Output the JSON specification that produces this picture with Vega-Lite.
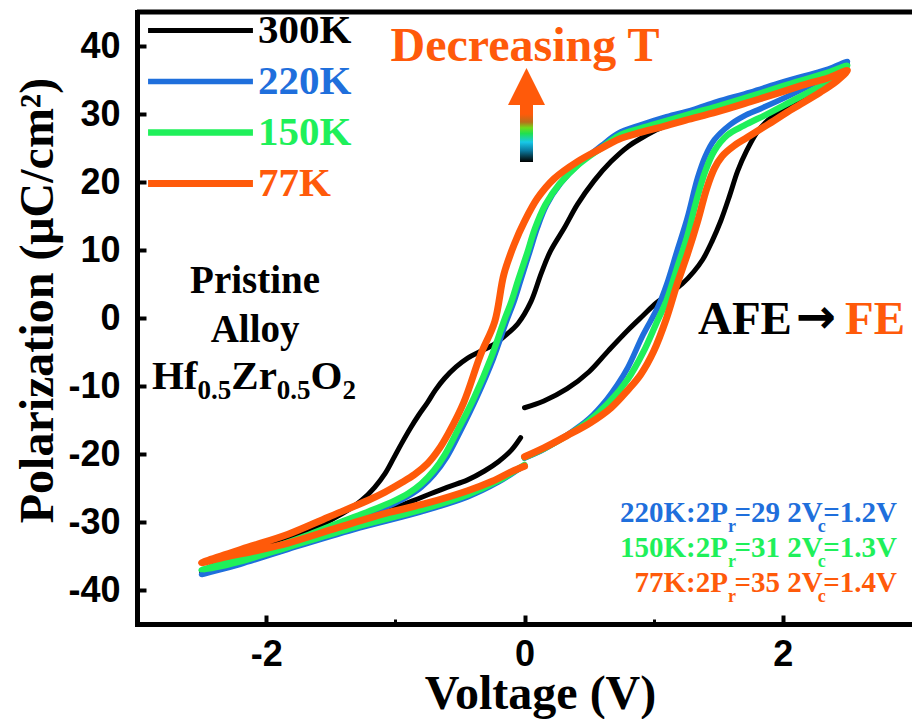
{
  "$schema": "https://vega.github.io/schema/vega-lite/v6.json",
  "width": 775,
  "height": 612,
  "autosize": {"type": "none"},
  "padding": {"left": 137, "top": 12, "right": 0, "bottom": 95},
  "background": "white",
  "config": {
    "view": {"stroke": null},
    "text": {"font": "Liberation Serif", "fontWeight": "bold"}
  },
  "datasets": {
    "one": [{}],
    "loops": [
      {"T":"300K","v":0.00,"p":-13.2},{"T":"300K","v":0.15,"p":-12.2},{"T":"300K","v":0.33,"p":-10.4},{"T":"300K","v":0.50,"p":-7.9},{"T":"300K","v":0.65,"p":-4.8},{"T":"300K","v":0.80,"p":-1.8},{"T":"300K","v":0.92,"p":0.4},{"T":"300K","v":1.02,"p":2.2},{"T":"300K","v":1.12,"p":3.6},{"T":"300K","v":1.22,"p":5.0},{"T":"300K","v":1.31,"p":6.8},{"T":"300K","v":1.38,"p":8.6},{"T":"300K","v":1.45,"p":11.2},{"T":"300K","v":1.52,"p":14.3},{"T":"300K","v":1.59,"p":18.1},{"T":"300K","v":1.65,"p":21.6},{"T":"300K","v":1.72,"p":24.6},{"T":"300K","v":1.80,"p":27.3},{"T":"300K","v":1.88,"p":29.0},{"T":"300K","v":2.00,"p":30.8},{"T":"300K","v":2.12,"p":32.0},{"T":"300K","v":2.25,"p":33.4},{"T":"300K","v":2.39,"p":35.1},{"T":"300K","v":2.50,"p":37.4},
      {"T":"300K","v":2.40,"p":36.6},{"T":"300K","v":2.20,"p":35.3},{"T":"300K","v":2.00,"p":34.0},{"T":"300K","v":1.75,"p":32.4},{"T":"300K","v":1.50,"p":30.9},{"T":"300K","v":1.25,"p":29.3},{"T":"300K","v":1.05,"p":27.9},{"T":"300K","v":0.90,"p":26.4},{"T":"300K","v":0.80,"p":25.2},{"T":"300K","v":0.67,"p":23.0},{"T":"300K","v":0.54,"p":20.2},{"T":"300K","v":0.41,"p":16.7},{"T":"300K","v":0.31,"p":13.3},{"T":"300K","v":0.20,"p":9.8},{"T":"300K","v":0.13,"p":6.6},{"T":"300K","v":0.05,"p":2.4},{"T":"300K","v":-0.05,"p":-0.8},{"T":"300K","v":-0.15,"p":-2.6},{"T":"300K","v":-0.23,"p":-3.8},{"T":"300K","v":-0.34,"p":-4.9},{"T":"300K","v":-0.44,"p":-5.9},{"T":"300K","v":-0.53,"p":-7.2},{"T":"300K","v":-0.62,"p":-8.9},{"T":"300K","v":-0.69,"p":-10.6},{"T":"300K","v":-0.75,"p":-12.4},{"T":"300K","v":-0.82,"p":-14.3},{"T":"300K","v":-0.88,"p":-16.1},{"T":"300K","v":-0.95,"p":-18.4},{"T":"300K","v":-1.01,"p":-20.5},{"T":"300K","v":-1.08,"p":-22.9},{"T":"300K","v":-1.16,"p":-24.9},{"T":"300K","v":-1.26,"p":-26.8},{"T":"300K","v":-1.37,"p":-28.3},{"T":"300K","v":-1.50,"p":-29.7},{"T":"300K","v":-1.62,"p":-30.8},{"T":"300K","v":-1.83,"p":-32.3},{"T":"300K","v":-2.02,"p":-33.4},{"T":"300K","v":-2.22,"p":-34.6},{"T":"300K","v":-2.40,"p":-36.3},{"T":"300K","v":-2.50,"p":-37.3},
      {"T":"300K","v":-2.40,"p":-36.5},{"T":"300K","v":-2.20,"p":-35.3},{"T":"300K","v":-2.00,"p":-34.2},{"T":"300K","v":-1.75,"p":-32.8},{"T":"300K","v":-1.50,"p":-31.2},{"T":"300K","v":-1.25,"p":-29.6},{"T":"300K","v":-1.00,"p":-27.9},{"T":"300K","v":-0.80,"p":-26.4},{"T":"300K","v":-0.60,"p":-24.9},{"T":"300K","v":-0.44,"p":-23.8},{"T":"300K","v":-0.31,"p":-22.5},{"T":"300K","v":-0.20,"p":-21.1},{"T":"300K","v":-0.10,"p":-19.4},{"T":"300K","v":-0.03,"p":-17.6},

      {"T":"220K","v":0.00,"p":-20.6},{"T":"220K","v":0.15,"p":-19.3},{"T":"220K","v":0.33,"p":-17.2},{"T":"220K","v":0.50,"p":-14.8},{"T":"220K","v":0.64,"p":-11.9},{"T":"220K","v":0.72,"p":-9.8},{"T":"220K","v":0.80,"p":-7.3},{"T":"220K","v":0.92,"p":-2.4},{"T":"220K","v":1.03,"p":1.5},{"T":"220K","v":1.10,"p":4.9},{"T":"220K","v":1.18,"p":9.8},{"T":"220K","v":1.26,"p":14.7},{"T":"220K","v":1.34,"p":20.6},{"T":"220K","v":1.40,"p":23.8},{"T":"220K","v":1.47,"p":26.2},{"T":"220K","v":1.59,"p":28.4},{"T":"220K","v":1.70,"p":29.7},{"T":"220K","v":1.83,"p":30.8},{"T":"220K","v":2.06,"p":32.8},{"T":"220K","v":2.26,"p":34.7},{"T":"220K","v":2.40,"p":36.3},{"T":"220K","v":2.50,"p":37.7},
      {"T":"220K","v":2.35,"p":36.6},{"T":"220K","v":2.00,"p":34.7},{"T":"220K","v":1.75,"p":33.2},{"T":"220K","v":1.49,"p":31.8},{"T":"220K","v":1.30,"p":30.6},{"T":"220K","v":1.10,"p":29.6},{"T":"220K","v":0.90,"p":28.4},{"T":"220K","v":0.72,"p":27.1},{"T":"220K","v":0.60,"p":25.4},{"T":"220K","v":0.43,"p":22.8},{"T":"220K","v":0.28,"p":19.8},{"T":"220K","v":0.17,"p":16.6},{"T":"220K","v":0.10,"p":13.3},{"T":"220K","v":0.04,"p":9.7},{"T":"220K","v":-0.03,"p":5.5},{"T":"220K","v":-0.08,"p":2.5},{"T":"220K","v":-0.14,"p":-0.5},{"T":"220K","v":-0.24,"p":-5.9},{"T":"220K","v":-0.37,"p":-11.7},{"T":"220K","v":-0.50,"p":-16.8},{"T":"220K","v":-0.60,"p":-20.4},{"T":"220K","v":-0.70,"p":-23.0},{"T":"220K","v":-0.80,"p":-24.9},{"T":"220K","v":-0.90,"p":-26.2},{"T":"220K","v":-1.00,"p":-27.2},{"T":"220K","v":-1.20,"p":-28.8},{"T":"220K","v":-1.42,"p":-30.4},{"T":"220K","v":-1.70,"p":-32.5},{"T":"220K","v":-2.00,"p":-34.6},{"T":"220K","v":-2.25,"p":-36.1},{"T":"220K","v":-2.50,"p":-37.7},
      {"T":"220K","v":-2.20,"p":-36.2},{"T":"220K","v":-1.83,"p":-34.0},{"T":"220K","v":-1.32,"p":-31.1},{"T":"220K","v":-0.80,"p":-28.5},{"T":"220K","v":-0.44,"p":-26.3},{"T":"220K","v":-0.20,"p":-24.1},{"T":"220K","v":-0.05,"p":-22.3},{"T":"220K","v":0.00,"p":-21.7},

      {"T":"150K","v":0.00,"p":-20.5},{"T":"150K","v":0.15,"p":-19.2},{"T":"150K","v":0.33,"p":-17.3},{"T":"150K","v":0.50,"p":-15.1},{"T":"150K","v":0.65,"p":-12.5},{"T":"150K","v":0.80,"p":-9.0},{"T":"150K","v":0.92,"p":-5.0},{"T":"150K","v":1.02,"p":-0.8},{"T":"150K","v":1.10,"p":2.6},{"T":"150K","v":1.18,"p":7.3},{"T":"150K","v":1.26,"p":12.0},{"T":"150K","v":1.33,"p":17.2},{"T":"150K","v":1.40,"p":21.6},{"T":"150K","v":1.47,"p":24.6},{"T":"150K","v":1.57,"p":26.9},{"T":"150K","v":1.70,"p":28.3},{"T":"150K","v":1.88,"p":30.0},{"T":"150K","v":2.07,"p":31.9},{"T":"150K","v":2.28,"p":34.0},{"T":"150K","v":2.42,"p":35.6},{"T":"150K","v":2.50,"p":37.1},
      {"T":"150K","v":2.35,"p":36.1},{"T":"150K","v":2.00,"p":34.1},{"T":"150K","v":1.75,"p":32.6},{"T":"150K","v":1.49,"p":31.1},{"T":"150K","v":1.30,"p":30.1},{"T":"150K","v":1.10,"p":29.0},{"T":"150K","v":0.90,"p":27.9},{"T":"150K","v":0.73,"p":26.8},{"T":"150K","v":0.60,"p":25.1},{"T":"150K","v":0.42,"p":22.6},{"T":"150K","v":0.27,"p":19.7},{"T":"150K","v":0.16,"p":16.6},{"T":"150K","v":0.08,"p":13.1},{"T":"150K","v":0.02,"p":9.5},{"T":"150K","v":-0.05,"p":5.5},{"T":"150K","v":-0.10,"p":2.5},{"T":"150K","v":-0.16,"p":-0.5},{"T":"150K","v":-0.26,"p":-5.9},{"T":"150K","v":-0.39,"p":-11.7},{"T":"150K","v":-0.52,"p":-16.6},{"T":"150K","v":-0.62,"p":-20.2},{"T":"150K","v":-0.70,"p":-22.4},{"T":"150K","v":-0.80,"p":-24.4},{"T":"150K","v":-0.90,"p":-25.8},{"T":"150K","v":-1.00,"p":-26.8},{"T":"150K","v":-1.20,"p":-28.4},{"T":"150K","v":-1.42,"p":-30.0},{"T":"150K","v":-1.70,"p":-32.1},{"T":"150K","v":-2.00,"p":-34.1},{"T":"150K","v":-2.25,"p":-35.6},{"T":"150K","v":-2.50,"p":-37.1},
      {"T":"150K","v":-2.20,"p":-35.8},{"T":"150K","v":-1.83,"p":-33.7},{"T":"150K","v":-1.32,"p":-30.8},{"T":"150K","v":-0.80,"p":-28.2},{"T":"150K","v":-0.44,"p":-26.0},{"T":"150K","v":-0.20,"p":-23.9},{"T":"150K","v":-0.05,"p":-22.2},{"T":"150K","v":0.00,"p":-21.6},

      {"T":"77K","v":0.00,"p":-20.4},{"T":"77K","v":0.15,"p":-19.1},{"T":"77K","v":0.33,"p":-17.3},{"T":"77K","v":0.51,"p":-15.4},{"T":"77K","v":0.67,"p":-13.2},{"T":"77K","v":0.80,"p":-10.6},{"T":"77K","v":0.90,"p":-8.3},{"T":"77K","v":1.00,"p":-4.9},{"T":"77K","v":1.10,"p":0.0},{"T":"77K","v":1.18,"p":4.9},{"T":"77K","v":1.26,"p":9.3},{"T":"77K","v":1.34,"p":14.2},{"T":"77K","v":1.41,"p":19.0},{"T":"77K","v":1.47,"p":22.0},{"T":"77K","v":1.53,"p":23.8},{"T":"77K","v":1.62,"p":25.3},{"T":"77K","v":1.72,"p":26.5},{"T":"77K","v":1.88,"p":28.4},{"T":"77K","v":2.08,"p":30.8},{"T":"77K","v":2.29,"p":33.2},{"T":"77K","v":2.42,"p":34.9},{"T":"77K","v":2.50,"p":36.4},
      {"T":"77K","v":2.35,"p":35.3},{"T":"77K","v":2.20,"p":34.5},{"T":"77K","v":2.00,"p":33.3},{"T":"77K","v":1.75,"p":31.8},{"T":"77K","v":1.49,"p":30.3},{"T":"77K","v":1.25,"p":29.1},{"T":"77K","v":1.10,"p":28.3},{"T":"77K","v":0.90,"p":27.3},{"T":"77K","v":0.73,"p":26.3},{"T":"77K","v":0.59,"p":24.9},{"T":"77K","v":0.41,"p":23.0},{"T":"77K","v":0.23,"p":20.5},{"T":"77K","v":0.10,"p":17.6},{"T":"77K","v":0.00,"p":14.2},{"T":"77K","v":-0.08,"p":10.8},{"T":"77K","v":-0.16,"p":6.4},{"T":"77K","v":-0.23,"p":-0.5},{"T":"77K","v":-0.34,"p":-5.4},{"T":"77K","v":-0.47,"p":-12.4},{"T":"77K","v":-0.59,"p":-17.0},{"T":"77K","v":-0.67,"p":-19.5},{"T":"77K","v":-0.75,"p":-21.4},{"T":"77K","v":-0.85,"p":-23.0},{"T":"77K","v":-0.96,"p":-24.3},{"T":"77K","v":-1.08,"p":-25.6},{"T":"77K","v":-1.21,"p":-26.8},{"T":"77K","v":-1.52,"p":-29.3},{"T":"77K","v":-1.83,"p":-31.8},{"T":"77K","v":-2.14,"p":-33.7},{"T":"77K","v":-2.35,"p":-35.0},{"T":"77K","v":-2.50,"p":-36.0},
      {"T":"77K","v":-2.35,"p":-35.3},{"T":"77K","v":-2.10,"p":-34.3},{"T":"77K","v":-1.83,"p":-33.1},{"T":"77K","v":-1.44,"p":-30.8},{"T":"77K","v":-1.05,"p":-28.6},{"T":"77K","v":-0.75,"p":-27.2},{"T":"77K","v":-0.44,"p":-25.4},{"T":"77K","v":-0.25,"p":-24.0},{"T":"77K","v":-0.10,"p":-22.6},{"T":"77K","v":0.00,"p":-21.8}
    ]
  },
  "layer": [
    {
      "data": {"name": "loops"},
      "mark": {"type": "line", "interpolate": "catmull-rom", "strokeCap": "round", "strokeJoin": "round"},
      "encoding": {
        "x": {
          "field": "v", "type": "quantitative",
          "scale": {"domain": [-3, 3], "nice": false, "zero": false},
          "axis": {
            "title": "Voltage (V)",
            "values": [-2, -1, 0, 1, 2],
            "labelExpr": "datum.value % 2 === 0 ? '' + datum.value : ''",
            "grid": false,
            "domainColor": "black", "domainWidth": 5, "domainCap": "square",
            "tickColor": "black",
            "tickSize": {"condition": {"test": "datum.value % 2 === 0", "value": -9}, "value": -5},
            "tickWidth": {"condition": {"test": "datum.value % 2 === 0", "value": 4}, "value": 3},
            "labelFont": "Liberation Sans", "labelFontWeight": "bold", "labelFontSize": 36, "labelColor": "black",
            "labelPadding": 22,
            "titleFont": "Liberation Serif", "titleFontWeight": "bold", "titleFontSize": 48, "titleColor": "black",
            "titleX": 403, "titleY": 84, "titleBaseline": "alphabetic"
          }
        },
        "y": {
          "field": "p", "type": "quantitative",
          "scale": {"domain": [-45, 45], "nice": false, "zero": false},
          "axis": {
            "title": "Polarization (μC/cm²)",
            "values": [-40, -35, -30, -25, -20, -15, -10, -5, 0, 5, 10, 15, 20, 25, 30, 35, 40],
            "labelExpr": "datum.value % 10 === 0 ? '' + datum.value : ''",
            "grid": false,
            "domainColor": "black", "domainWidth": 5, "domainCap": "square",
            "tickColor": "black",
            "tickSize": {"condition": {"test": "datum.value % 10 === 0", "value": -9}, "value": -5},
            "tickWidth": {"condition": {"test": "datum.value % 10 === 0", "value": 4}, "value": 3},
            "labelFont": "Liberation Sans", "labelFontWeight": "bold", "labelFontSize": 36, "labelColor": "black",
            "labelPadding": 26,
            "titleFont": "Liberation Serif", "titleFontWeight": "bold", "titleFontSize": 48, "titleColor": "black",
            "titleX": -85, "titleY": 288, "titleBaseline": "alphabetic", "titleAngle": -90
          }
        },
        "color": {
          "field": "T", "type": "nominal",
          "scale": {"domain": ["300K", "220K", "150K", "77K"], "range": ["#000000", "#1f6fdc", "#1ff05a", "#ff5a0a"]},
          "legend": {
            "title": null,
            "orient": "none", "legendX": 43, "legendY": -2,
            "padding": 0,
            "symbolType": "M-5,0H5", "symbolSize": 440, "symbolStrokeWidth": 5,
            "labelFont": "Liberation Serif", "labelFontWeight": "bold", "labelFontSize": 41,
            "labelColor": {"expr": "scale('color', datum.value)"},
            "labelOffset": 37, "rowPadding": 9, "labelLimit": 0
          }
        },
        "strokeWidth": {
          "field": "T", "type": "ordinal",
          "scale": {"domain": ["300K", "220K", "150K", "77K"], "range": [5, 7, 7, 7]},
          "legend": null
        },
        "order": {"value": null}
      }
    },
    {
      "data": {"name": "one"},
      "mark": {"type": "rule", "color": "black", "strokeWidth": 5},
      "encoding": {"y": {"datum": 45}}
    },
    {"data": {"name": "one"}, "mark": {"type": "text", "text": "Pristine", "fontSize": 39, "align": "center", "baseline": "alphabetic", "color": "black"}, "encoding": {"x": {"datum": -2.086}, "y": {"datum": 3.68}}},
    {"data": {"name": "one"}, "mark": {"type": "text", "text": "Alloy", "fontSize": 39, "align": "center", "baseline": "alphabetic", "color": "black"}, "encoding": {"x": {"datum": -2.086}, "y": {"datum": -3.53}}},
    {"data": {"name": "one"}, "mark": {"type": "text", "text": "Hf", "fontSize": 41, "align": "left", "baseline": "alphabetic", "color": "black"}, "encoding": {"x": {"datum": -2.884}, "y": {"datum": -10.44}}},
    {"data": {"name": "one"}, "mark": {"type": "text", "text": "0.5", "fontSize": 27, "align": "left", "baseline": "alphabetic", "color": "black"}, "encoding": {"x": {"datum": -2.532}, "y": {"datum": -11.91}}},
    {"data": {"name": "one"}, "mark": {"type": "text", "text": "Zr", "fontSize": 41, "align": "left", "baseline": "alphabetic", "color": "black"}, "encoding": {"x": {"datum": -2.27}, "y": {"datum": -10.44}}},
    {"data": {"name": "one"}, "mark": {"type": "text", "text": "0.5", "fontSize": 27, "align": "left", "baseline": "alphabetic", "color": "black"}, "encoding": {"x": {"datum": -1.918}, "y": {"datum": -11.91}}},
    {"data": {"name": "one"}, "mark": {"type": "text", "text": "O", "fontSize": 41, "align": "left", "baseline": "alphabetic", "color": "black"}, "encoding": {"x": {"datum": -1.657}, "y": {"datum": -10.44}}},
    {"data": {"name": "one"}, "mark": {"type": "text", "text": "2", "fontSize": 27, "align": "left", "baseline": "alphabetic", "color": "black"}, "encoding": {"x": {"datum": -1.41}, "y": {"datum": -11.91}}},
    {"data": {"name": "one"}, "mark": {"type": "text", "text": "Decreasing T", "fontSize": 48, "align": "center", "baseline": "alphabetic", "color": "#ff5a0a"}, "encoding": {"x": {"datum": 0.004}, "y": {"datum": 37.79}}},
    {
      "data": {"name": "one"},
      "mark": {
        "type": "rect",
        "color": {
          "gradient": "linear", "x1": 0, "y1": 0, "x2": 0, "y2": 1,
          "stops": [
            {"offset": 0, "color": "#ff5a0a"},
            {"offset": 0.16, "color": "#ff5a0a"},
            {"offset": 0.3, "color": "#b8701a"},
            {"offset": 0.4, "color": "#6fdc1a"},
            {"offset": 0.5, "color": "#20e050"},
            {"offset": 0.65, "color": "#18c8e8"},
            {"offset": 0.8, "color": "#0a7aa0"},
            {"offset": 0.92, "color": "#06303c"},
            {"offset": 1, "color": "#000000"}
          ]
        }
      },
      "encoding": {"x": {"datum": -0.035}, "x2": {"datum": 0.066}, "y": {"datum": 31.32}, "y2": {"datum": 22.94}}
    },
    {"data": {"name": "one"}, "mark": {"type": "point", "shape": "M0,-1L1,1L-1,1Z", "filled": true, "color": "#ff5a0a", "opacity": 1, "size": 1369}, "encoding": {"x": {"datum": 0.0155}, "y": {"datum": 34.04}}},
    {"data": {"name": "one"}, "mark": {"type": "text", "text": "AFE", "fontSize": 47, "align": "left", "baseline": "alphabetic", "color": "black"}, "encoding": {"x": {"datum": 1.343}, "y": {"datum": -2.35}}},
    {"data": {"name": "one"}, "mark": {"type": "text", "text": "→", "font": "DejaVu Sans", "fontSize": 48, "align": "left", "baseline": "alphabetic", "color": "black"}, "encoding": {"x": {"datum": 2.1}, "y": {"datum": -2.2}}},
    {"data": {"name": "one"}, "mark": {"type": "text", "text": "FE", "fontSize": 47, "align": "left", "baseline": "alphabetic", "color": "#ff5a0a"}, "encoding": {"x": {"datum": 2.481}, "y": {"datum": -2.35}}},

    {"data": {"name": "one"}, "mark": {"type": "text", "text": "220K:2P", "fontSize": 29, "align": "right", "baseline": "alphabetic", "color": "#1f6fdc"}, "encoding": {"x": {"datum": 1.575}, "y": {"datum": -30.0}}},
    {"data": {"name": "one"}, "mark": {"type": "text", "text": "r", "fontSize": 18, "align": "left", "baseline": "alphabetic", "color": "#1f6fdc"}, "encoding": {"x": {"datum": 1.575}, "y": {"datum": -31.47}}},
    {"data": {"name": "one"}, "mark": {"type": "text", "text": "=29 2V", "fontSize": 29, "align": "left", "baseline": "alphabetic", "color": "#1f6fdc"}, "encoding": {"x": {"datum": 1.625}, "y": {"datum": -30.0}}},
    {"data": {"name": "one"}, "mark": {"type": "text", "text": "c", "fontSize": 18, "align": "left", "baseline": "alphabetic", "color": "#1f6fdc"}, "encoding": {"x": {"datum": 2.27}, "y": {"datum": -31.47}}},
    {"data": {"name": "one"}, "mark": {"type": "text", "text": "=1.2V", "fontSize": 29, "align": "right", "baseline": "alphabetic", "color": "#1f6fdc"}, "encoding": {"x": {"datum": 2.884}, "y": {"datum": -30.0}}},

    {"data": {"name": "one"}, "mark": {"type": "text", "text": "150K:2P", "fontSize": 29, "align": "right", "baseline": "alphabetic", "color": "#1ff05a"}, "encoding": {"x": {"datum": 1.575}, "y": {"datum": -35.15}}},
    {"data": {"name": "one"}, "mark": {"type": "text", "text": "r", "fontSize": 18, "align": "left", "baseline": "alphabetic", "color": "#1ff05a"}, "encoding": {"x": {"datum": 1.575}, "y": {"datum": -36.62}}},
    {"data": {"name": "one"}, "mark": {"type": "text", "text": "=31 2V", "fontSize": 29, "align": "left", "baseline": "alphabetic", "color": "#1ff05a"}, "encoding": {"x": {"datum": 1.625}, "y": {"datum": -35.15}}},
    {"data": {"name": "one"}, "mark": {"type": "text", "text": "c", "fontSize": 18, "align": "left", "baseline": "alphabetic", "color": "#1ff05a"}, "encoding": {"x": {"datum": 2.27}, "y": {"datum": -36.62}}},
    {"data": {"name": "one"}, "mark": {"type": "text", "text": "=1.3V", "fontSize": 29, "align": "right", "baseline": "alphabetic", "color": "#1ff05a"}, "encoding": {"x": {"datum": 2.884}, "y": {"datum": -35.15}}},

    {"data": {"name": "one"}, "mark": {"type": "text", "text": "77K:2P", "fontSize": 29, "align": "right", "baseline": "alphabetic", "color": "#ff5a0a"}, "encoding": {"x": {"datum": 1.575}, "y": {"datum": -40.29}}},
    {"data": {"name": "one"}, "mark": {"type": "text", "text": "r", "fontSize": 18, "align": "left", "baseline": "alphabetic", "color": "#ff5a0a"}, "encoding": {"x": {"datum": 1.575}, "y": {"datum": -41.76}}},
    {"data": {"name": "one"}, "mark": {"type": "text", "text": "=35 2V", "fontSize": 29, "align": "left", "baseline": "alphabetic", "color": "#ff5a0a"}, "encoding": {"x": {"datum": 1.625}, "y": {"datum": -40.29}}},
    {"data": {"name": "one"}, "mark": {"type": "text", "text": "c", "fontSize": 18, "align": "left", "baseline": "alphabetic", "color": "#ff5a0a"}, "encoding": {"x": {"datum": 2.27}, "y": {"datum": -41.76}}},
    {"data": {"name": "one"}, "mark": {"type": "text", "text": "=1.4V", "fontSize": 29, "align": "right", "baseline": "alphabetic", "color": "#ff5a0a"}, "encoding": {"x": {"datum": 2.884}, "y": {"datum": -40.29}}}
  ]
}
